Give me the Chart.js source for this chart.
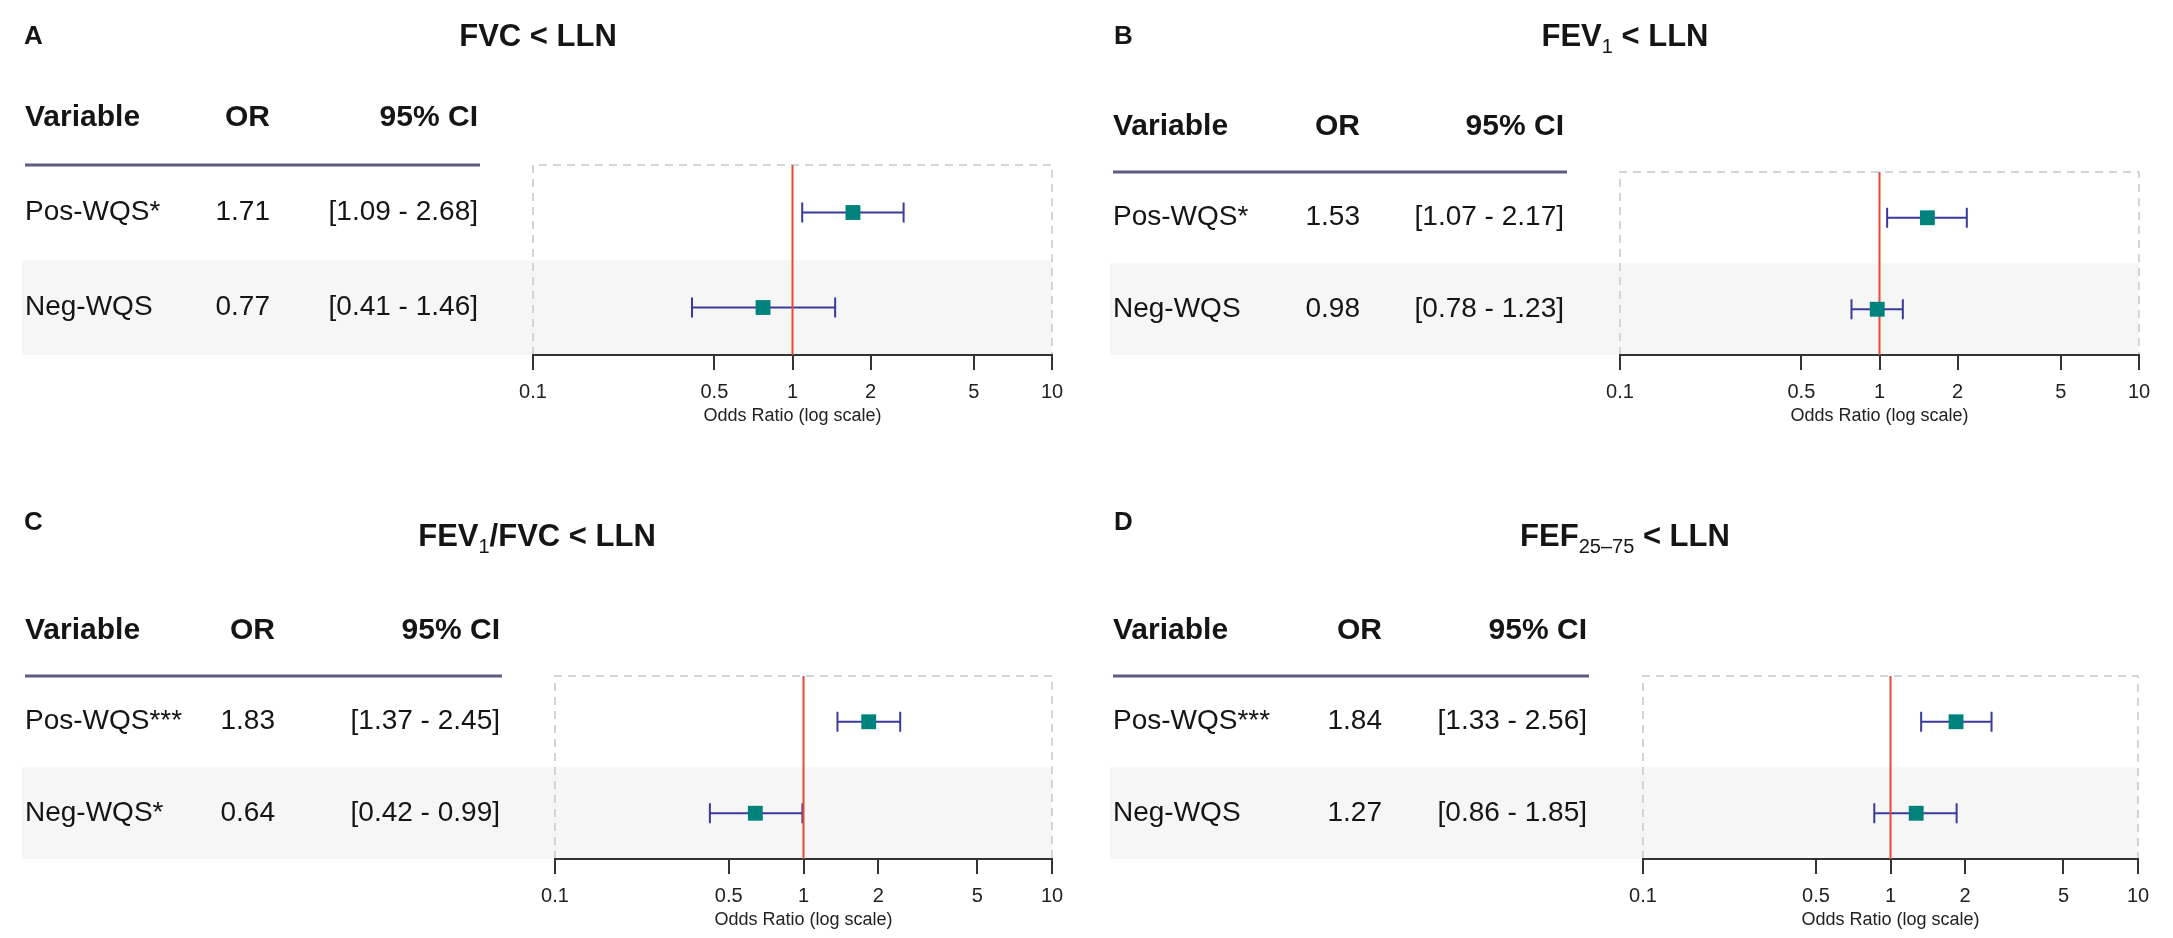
<!DOCTYPE html>
<html>
<head>
<meta charset="utf-8">
<script src="https://cdn.jsdelivr.net/npm/chart.js@4.4.1/dist/chart.umd.min.js"></script>
<style>
  html, body { margin: 0; padding: 0; background: #fff; }
  #wrap { position: relative; width: 2173px; height: 938px; }
  canvas { position: absolute; }
</style>
</head>
<body>
<div id="wrap">
  <canvas id="panelA" width="1086" height="469" style="left:0;top:0"></canvas>
  <canvas id="panelB" width="1087" height="469" style="left:1086px;top:0"></canvas>
  <canvas id="panelC" width="1086" height="469" style="left:0;top:469px"></canvas>
  <canvas id="panelD" width="1087" height="469" style="left:1086px;top:469px"></canvas>
</div>
<script>
// odds ratios of the two WQS indices, one panel per outcome
const panelLetters = ['A', 'B', 'C', 'D'];
const variables = ['Pos-WQS', 'Neg-WQS'];
const stars = [['*', ''], ['*', ''], ['***', '*'], ['***', '']];
const orValues = [[1.71, 0.77], [1.53, 0.98], [1.83, 0.64], [1.84, 1.27]];
const ciLow = [[1.09, 0.41], [1.07, 0.78], [1.37, 0.42], [1.33, 0.86]];
const ciHigh = [[2.68, 1.46], [2.17, 1.23], [2.45, 0.99], [2.56, 1.85]];
const tickValues = [0.1, 0.5, 1, 2, 5, 10];
const refValue = 1;
// [text, subscript?]
const titleParts = [
  [['FVC < LLN', false]],
  [['FEV', false], ['1', true], [' < LLN', false]],
  [['FEV', false], ['1', true], ['/FVC < LLN', false]],
  [['FEF', false], ['25\u201375', true], [' < LLN', false]]
];

// where things go inside each canvas
const layouts = [
  { id: 'panelA', area: [533, 1052, 165, 355], table: [25, 270, 478, 480], letter: [24, 37], title: [538, 35] },
  { id: 'panelB', area: [534, 1053, 172, 355], table: [27, 274, 478, 481], letter: [28, 37], title: [539, 35] },
  { id: 'panelC', area: [555, 1052, 207, 390], table: [25, 275, 500, 502], letter: [24, 54], title: [537, 66] },
  { id: 'panelD', area: [557, 1052, 207, 390], table: [27, 296, 501, 503], letter: [28, 54], title: [539, 66] }
];

const FONT = '"Liberation Sans", Arial, Helvetica, sans-serif';
const AXIS_H = 72;

// top row first
function rowValue(i) {
  return variables.length - i - 0.5;
}

function makeForestPlugin(p, L) {
  return {
    id: 'forest' + p,
    beforeDraw(chart) {
      const { ctx, chartArea: a, scales: { y } } = chart;
      ctx.save();
      // shaded Neg-WQS row
      const y0 = y.getPixelForValue(1), y1 = y.getPixelForValue(0);
      ctx.fillStyle = '#f6f6f6';
      ctx.fillRect(L.table[0] - 3, y0, a.right - L.table[0] + 3, y1 - y0);
      // dashed frame
      ctx.strokeStyle = '#c8c8c8';
      ctx.lineWidth = 1.5;
      ctx.setLineDash([8, 6]);
      ctx.beginPath();
      ctx.moveTo(a.left, a.bottom);
      ctx.lineTo(a.left, a.top);
      ctx.lineTo(a.right, a.top);
      ctx.lineTo(a.right, a.bottom);
      ctx.stroke();
      ctx.restore();
    },
    beforeDatasetsDraw(chart) {
      const { ctx, chartArea: a, scales: { x, y } } = chart;
      ctx.save();
      // CI whiskers
      ctx.strokeStyle = '#3a3a9c';
      ctx.lineWidth = 2;
      variables.forEach((v, i) => {
        const yy = y.getPixelForValue(rowValue(i));
        const xl = x.getPixelForValue(ciLow[p][i]);
        const xh = x.getPixelForValue(ciHigh[p][i]);
        ctx.beginPath();
        ctx.moveTo(xl, yy); ctx.lineTo(xh, yy);
        ctx.moveTo(xl, yy - 10); ctx.lineTo(xl, yy + 10);
        ctx.moveTo(xh, yy - 10); ctx.lineTo(xh, yy + 10);
        ctx.stroke();
      });
      // null line
      const xr = x.getPixelForValue(refValue);
      ctx.strokeStyle = '#e64a32';
      ctx.lineWidth = 2;
      ctx.beginPath();
      ctx.moveTo(xr, a.top); ctx.lineTo(xr, a.bottom);
      ctx.stroke();
      ctx.restore();
    },
    afterDraw(chart) {
      const { ctx, chartArea: a, scales: { y } } = chart;
      ctx.save();
      ctx.fillStyle = '#151515';
      ctx.textBaseline = 'middle';
      ctx.textAlign = 'left';
      ctx.font = 'bold 26px ' + FONT;
      ctx.fillText(panelLetters[p], L.letter[0], L.letter[1]);

      // table header
      const hy = y.getPixelForValue(variables.length + 0.5);
      ctx.font = 'bold 30px ' + FONT;
      ctx.fillText('Variable', L.table[0], hy);
      ctx.textAlign = 'right';
      ctx.fillText('OR', L.table[1], hy);
      ctx.fillText('95% CI', L.table[2], hy);
      ctx.strokeStyle = '#5c5c7e';
      ctx.lineWidth = 3;
      ctx.beginPath();
      ctx.moveTo(L.table[0], a.top); ctx.lineTo(L.table[3], a.top);
      ctx.stroke();

      // table rows
      ctx.font = '28px ' + FONT;
      variables.forEach((v, i) => {
        const ry = y.getPixelForValue(rowValue(i));
        ctx.textAlign = 'left';
        ctx.fillText(v + stars[p][i], L.table[0], ry);
        ctx.textAlign = 'right';
        ctx.fillText(orValues[p][i].toFixed(2), L.table[1], ry);
        ctx.fillText('[' + ciLow[p][i].toFixed(2) + ' - ' + ciHigh[p][i].toFixed(2) + ']', L.table[2], ry);
      });

      // title with subscripts
      const big = 'bold 31px ' + FONT, small = '20px ' + FONT;
      ctx.textAlign = 'left';
      ctx.textBaseline = 'alphabetic';
      let w = 0;
      titleParts[p].forEach(([t, sub]) => { ctx.font = sub ? small : big; w += ctx.measureText(t).width; });
      let tx = L.title[0] - w / 2;
      const base = L.title[1] + 11;
      titleParts[p].forEach(([t, sub]) => {
        ctx.font = sub ? small : big;
        ctx.fillText(t, tx, sub ? base + 7 : base);
        tx += ctx.measureText(t).width;
      });
      ctx.restore();
    }
  };
}

layouts.forEach((L, p) => {
  const canvas = document.getElementById(L.id);
  new Chart(canvas, {
    type: 'scatter',
    data: {
      datasets: [{
        data: orValues[p].map((v, i) => ({ x: v, y: rowValue(i) })),
        pointStyle: 'rect',
        pointRadius: 10.5,
        backgroundColor: '#00827c',
        borderWidth: 0
      }]
    },
    options: {
      responsive: false,
      animation: false,
      events: [],
      layout: {
        padding: {
          left: L.area[0],
          right: canvas.width - L.area[1],
          top: L.area[2],
          bottom: canvas.height - L.area[3] - AXIS_H
        }
      },
      plugins: { legend: { display: false }, tooltip: { enabled: false } },
      scales: {
        x: {
          type: 'logarithmic',
          min: 0.1,
          max: 10,
          afterBuildTicks: s => { s.ticks = tickValues.map(v => ({ value: v })); },
          afterFit: s => { s.height = AXIS_H; },
          grid: { display: true, drawOnChartArea: false, drawTicks: true, tickLength: 15, color: '#333', lineWidth: 2 },
          border: { display: true, color: '#333', width: 2 },
          ticks: {
            autoSkip: false, maxRotation: 0, padding: 10, color: '#222',
            font: { size: 20, family: FONT },
            callback: v => String(v)
          },
          title: { display: true, text: 'Odds Ratio (log scale)', color: '#222', font: { size: 18, family: FONT }, padding: 0 }
        },
        y: { type: 'linear', display: false, min: 0, max: variables.length }
      }
    },
    plugins: [makeForestPlugin(p, L)]
  });
});
</script>
</body>
</html>
